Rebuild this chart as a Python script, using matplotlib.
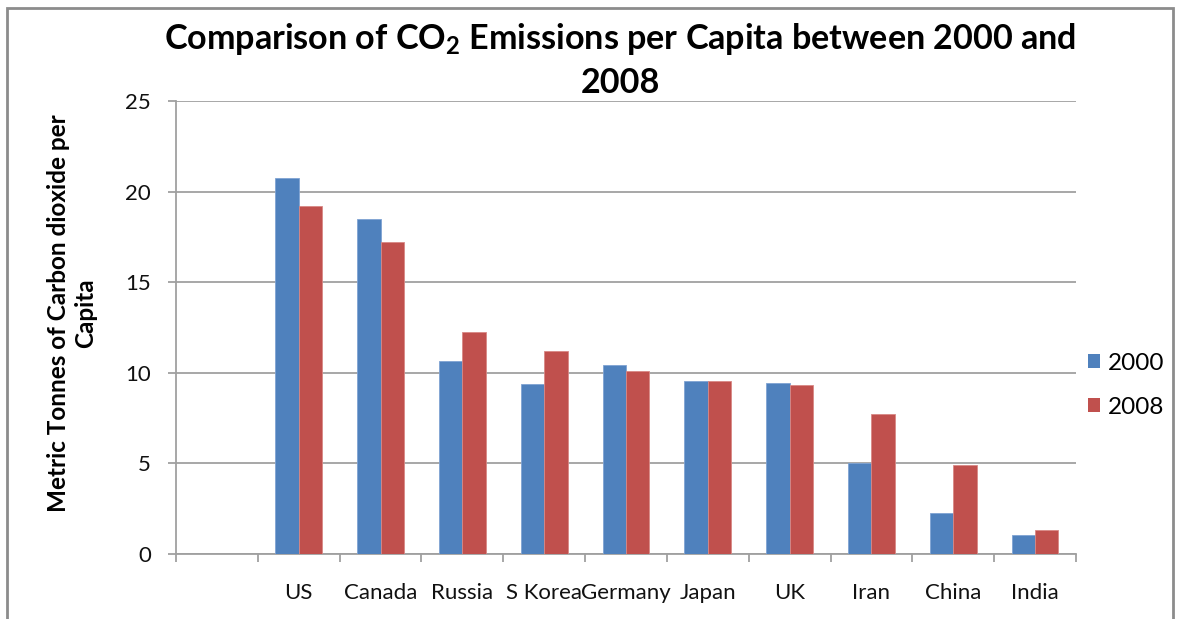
import numpy as np
import matplotlib
matplotlib.use("Agg")
import matplotlib.pyplot as plt
from matplotlib.patches import Rectangle, Patch

plt.rcParams["font.family"] = ["Lato", "DejaVu Sans"]
plt.rcParams["mathtext.fontset"] = "custom"
plt.rcParams["mathtext.rm"] = "Lato"
plt.rcParams["mathtext.bf"] = "Lato:bold"

# CO2 emissions per capita (metric tonnes); the first category slot is left blank
categories = ["", "US", "Canada", "Russia", "S Korea", "Germany", "Japan", "UK", "Iran", "China", "India"]
emissions_2000 = [np.nan, 20.74, 18.5, 10.63, 9.36, 10.41, 9.51, 9.43, 5.02, 2.22, 1.01]
emissions_2008 = [np.nan, 19.2, 17.2, 12.25, 11.18, 10.06, 9.51, 9.34, 7.72, 4.89, 1.28]
series_labels = ["2000", "2008"]
y_ticks = [0, 5, 10, 15, 20, 25]

W, H = 1177, 619
fig = plt.figure(figsize=(W / 100, H / 100), dpi=100)
ax = fig.add_axes([176 / W, 1 - 553.6 / H, (1076 - 176) / W, (553.6 - 101) / H])

blue = "#4F81BD"
red = "#C0504D"
grey = "#A0A0A0"

x = np.arange(len(categories))
bw = 1 / 3.5
ax.bar(x - bw / 2, emissions_2000, width=bw, color=blue, edgecolor="#7FA3D3", linewidth=0.6, zorder=3)
ax.bar(x + bw / 2, emissions_2008, width=bw, color=red, edgecolor="#D88885", linewidth=0.6, zorder=3)

ax.set_xlim(-0.5, len(categories) - 0.5)
ax.set_ylim(0, 25)
ax.set_yticks(y_ticks)
ax.set_yticklabels([str(t) for t in y_ticks], fontsize=16, color="#111111")
ax.yaxis.grid(True, color=grey, linewidth=1.3, zorder=0)
ax.set_axisbelow(True)

ax.set_xticks(x)
ax.set_xticklabels(categories, fontsize=16, color="#111111")
ax.set_xticks(np.arange(-0.5, len(categories)), minor=True)
ax.tick_params(axis="x", which="major", length=0, pad=21)
ax.tick_params(axis="x", which="minor", length=6, width=1.3, color=grey, direction="out")
ax.tick_params(axis="y", which="major", length=6, width=1.3, color=grey, direction="out", pad=12)

for side in ("top", "right"):
    ax.spines[side].set_visible(False)
for side in ("left", "bottom"):
    ax.spines[side].set_color(grey)
    ax.spines[side].set_linewidth(1.3)

fig.text(620 / W, 1 - 60 / H,
         "Comparison of CO$_{\\mathbf{2}}$ Emissions per Capita between 2000 and\n2008",
         ha="center", va="center", fontsize=24.6, fontweight="bold", linespacing=1.4)

fig.text(72 / W, 1 - 313 / H, "Metric Tonnes of Carbon dioxide per\nCapita",
         rotation=90, ha="center", va="center", fontsize=17.5, fontweight="bold",
         multialignment="center", linespacing=1.2)

handles = [Patch(facecolor=blue), Patch(facecolor=red)]
fig.legend(handles, series_labels, loc="center left", bbox_to_anchor=(1088 / W, 1 - 385.5 / H),
           frameon=False, fontsize=17.5, handlelength=0.5, handleheight=0.5,
           handletextpad=0.3, labelspacing=0.95, borderpad=0, borderaxespad=0)

# outer chart border
fig.add_artist(Rectangle((7 / W, -0.05), (1173 - 7) / W, 1.05 - 8 / H, transform=fig.transFigure,
                         fill=False, edgecolor="#8C8C8C", linewidth=2))

fig.savefig("out.png", dpi=100)
